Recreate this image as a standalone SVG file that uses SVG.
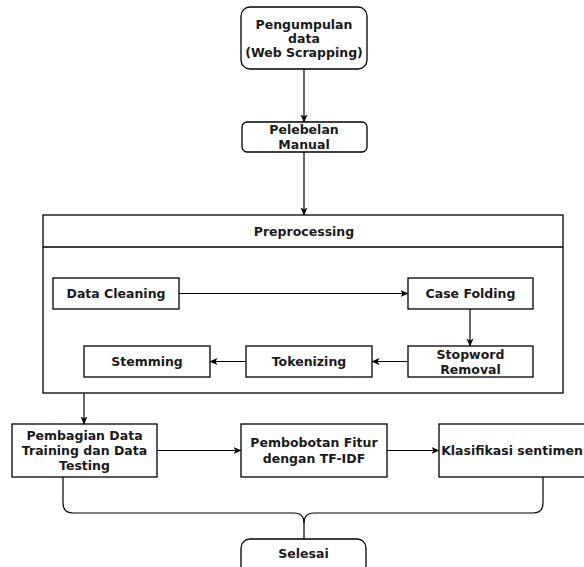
<svg xmlns="http://www.w3.org/2000/svg" width="584" height="567" viewBox="0 0 584 567">
<defs>
<marker id="ah" markerWidth="8" markerHeight="8" refX="7.5" refY="3.5" orient="auto" markerUnits="userSpaceOnUse">
<path d="M0,0 L8,3.5 L0,7 L2,3.5 z" fill="#000"/>
</marker>
</defs>
<style>
.box{fill:#fff;stroke:#000;stroke-width:1.3}
.t{font-family:"DejaVu Sans",Verdana,sans-serif;font-weight:bold;font-size:12.5px;fill:#1a1a1a;text-anchor:middle;dominant-baseline:central}
.c{fill:none;stroke:#000;stroke-width:1.2}
.ca{fill:none;stroke:#000;stroke-width:1.2;marker-end:url(#ah)}
</style>
<rect width="584" height="567" fill="#fff"/>
<g id="n-preprocessing">
<rect class="box" x="43" y="215" width="520" height="178"/>
<line x1="43" y1="247" x2="563" y2="247" stroke="#000" stroke-width="1.3"/>
<text class="t" x="304" y="231">Preprocessing</text>
</g>
<g id="connectors">
<line class="ca" x1="304" y1="69" x2="304" y2="122"/>
<line class="ca" x1="304" y1="152" x2="304" y2="215"/>
<line class="ca" x1="179" y1="293.5" x2="408" y2="293.5"/>
<line class="ca" x1="470" y1="309" x2="470" y2="346"/>
<line class="ca" x1="408" y1="361.5" x2="372" y2="361.5"/>
<line class="ca" x1="246" y1="361.5" x2="210" y2="361.5"/>
<line class="ca" x1="84" y1="393" x2="84" y2="424"/>
<line class="ca" x1="157" y1="450.5" x2="241" y2="450.5"/>
<line class="ca" x1="387" y1="450.5" x2="439" y2="450.5"/>
<path class="c" d="M63,477 L63,503 Q63,513 73,513 L294,513 Q304,513 304,523 L304,539"/>
<path class="c" d="M543,477 L543,503 Q543,513 533,513 L314,513 Q304,513 304,523"/>
</g>
<g id="n-pengumpulan">
<rect class="box" x="241" y="7" width="126" height="62" rx="9"/>
<text class="t" x="304" y="24">Pengumpulan</text>
<text class="t" x="304" y="38">data</text>
<text class="t" x="304" y="52">(Web Scrapping)</text>
</g>
<g id="n-pelebelan">
<rect class="box" x="242" y="122" width="125" height="30" rx="5"/>
<text class="t" x="304" y="129">Pelebelan</text>
<text class="t" x="304" y="144">Manual</text>
</g>
<g id="n-datacleaning">
<rect class="box" x="53" y="278" width="126" height="31"/>
<text class="t" x="116" y="293.5">Data Cleaning</text>
</g>
<g id="n-casefolding">
<rect class="box" x="408" y="278" width="125" height="31"/>
<text class="t" x="470.5" y="293.5">Case Folding</text>
</g>
<g id="n-stopword">
<rect class="box" x="408" y="346" width="125" height="31"/>
<text class="t" x="470.5" y="354">Stopword</text>
<text class="t" x="470.5" y="369">Removal</text>
</g>
<g id="n-tokenizing">
<rect class="box" x="246" y="346" width="126" height="31"/>
<text class="t" x="309" y="361.5">Tokenizing</text>
</g>
<g id="n-stemming">
<rect class="box" x="84" y="346" width="126" height="31"/>
<text class="t" x="147" y="361.5">Stemming</text>
</g>
<g id="n-pembagian">
<rect class="box" x="12" y="424" width="145" height="53"/>
<text class="t" x="84.5" y="435">Pembagian Data</text>
<text class="t" x="84.5" y="450">Training dan Data</text>
<text class="t" x="84.5" y="465">Testing</text>
</g>
<g id="n-pembobotan">
<rect class="box" x="241" y="424" width="146" height="53"/>
<text class="t" x="314" y="442">Pembobotan Fitur</text>
<text class="t" x="314" y="458">dengan TF-IDF</text>
</g>
<g id="n-klasifikasi">
<rect class="box" x="439" y="424" width="160" height="53"/>
<text class="t" x="512" y="450.5">Klasifikasi sentimen</text>
</g>
<g id="n-selesai">
<rect class="box" x="241" y="539" width="125" height="40" rx="9"/>
<text class="t" x="303.5" y="553">Selesai</text>
</g>
</svg>
